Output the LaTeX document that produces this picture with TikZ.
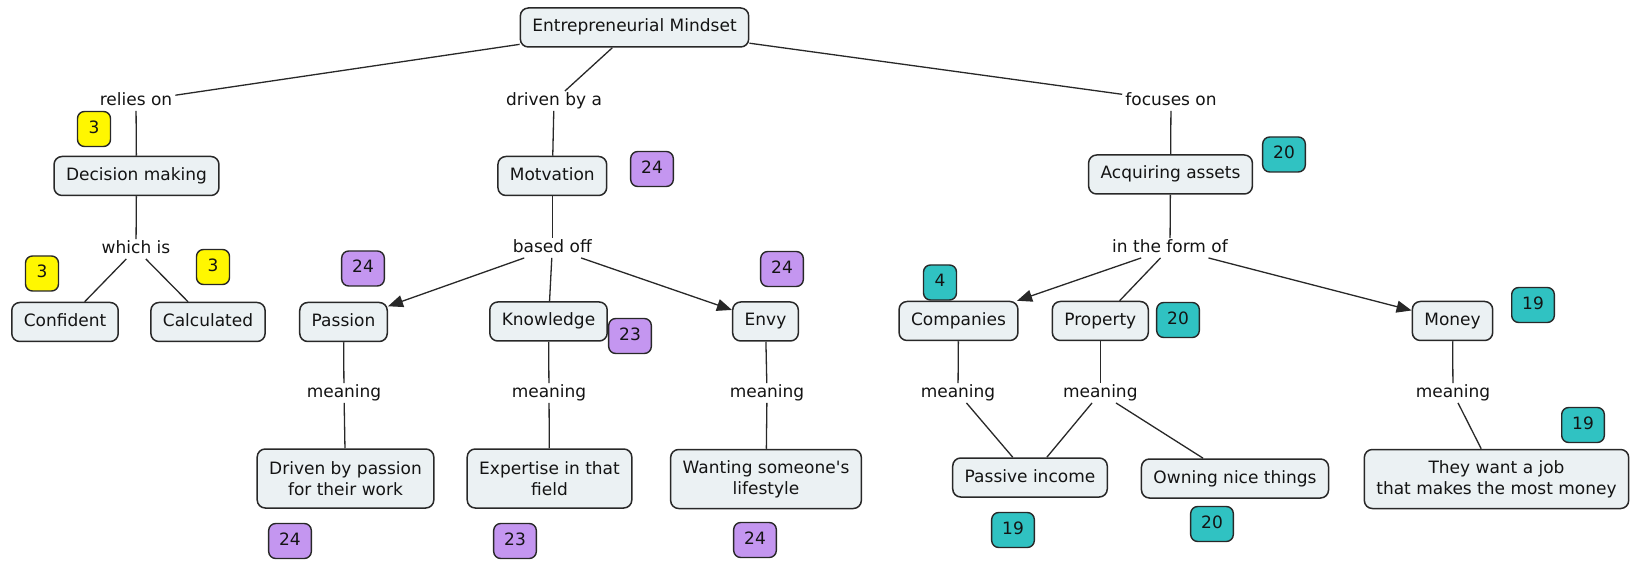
\documentclass[tikz,border=0pt]{standalone}
\usepackage{fontspec}
\newfontfamily\cmapfont{DejaVu Sans}
\usetikzlibrary{arrows.meta}
\definecolor{boxfill}{RGB}{235,241,243}
\definecolor{boxline}{RGB}{40,40,40}
\definecolor{yel}{RGB}{255,247,0}
\definecolor{pur}{RGB}{196,150,240}
\definecolor{teal2}{RGB}{48,194,194}
\definecolor{txt}{RGB}{20,20,20}
\tikzset{
  concept/.style={draw=boxline, line width=1.5pt, fill=boxfill, rounded corners=8pt,
    inner xsep=12pt, inner ysep=0pt, minimum height=39pt, text height=12.5pt, text depth=3.5pt, text=txt},
  concepttwo/.style={draw=boxline, line width=1.5pt, fill=boxfill, rounded corners=8pt,
    inner xsep=12pt, inner ysep=10pt, minimum height=59pt, align=center, text=txt},
  linkword/.style={fill=white, inner xsep=3pt, inner ysep=2pt, text height=12pt, text depth=3.5pt, text=txt},
  badge/.style={draw=boxline, line width=1.4pt, rounded corners=7pt, inner xsep=10.5pt, inner ysep=0pt,
    minimum height=35pt, minimum width=33pt, text height=12.5pt, text depth=3.5pt, text=txt},
  yb/.style={badge, fill=yel},
  pb/.style={badge, fill=pur},
  tb/.style={badge, fill=teal2},
  conn/.style={draw=boxline, line width=1.3pt},
  arr/.style={conn, -{Triangle[length=15pt,width=12pt]}}
}
\begin{document}
\begin{tikzpicture}[x=1pt,y=-1pt, font=\cmapfont\fontsize{17}{21}\selectfont]
\useasboundingbox (0,0) rectangle (1631,561);
\fill[white] (0,0) rectangle (1631,561);

% concepts
\node[concept] (em) at (634.5,27.5) {Entrepreneurial Mindset};
\node[linkword] (relies) at (136,101) {relies on};
\node[linkword] (driven) at (554,101) {driven by a};
\node[linkword] (focuses) at (1171,101) {focuses on};
\node[concept] (dm) at (136.5,176) {Decision making};
\node[concept] (mot) at (552.3,176) {Motvation};
\node[concept] (aa) at (1170.5,174.5) {Acquiring assets};
\node[linkword] (which) at (136,249) {which is};
\node[linkword] (based) at (552.3,248) {based off};
\node[linkword] (form) at (1170,248) {in the form of};
\node[concept] (conf) at (65,322) {Confident};
\node[concept] (calc) at (208,322) {Calculated};
\node[concept] (pas) at (343.5,322) {Passion};
\node[concept] (know) at (548.5,321.5) {Knowledge};
\node[concept] (envy) at (765.5,321.5) {Envy};
\node[concept] (comp) at (958.5,321) {Companies};
\node[concept] (prop) at (1100.3,321) {Property};
\node[concept] (money) at (1452.5,321) {Money};
\node[linkword] (m1) at (344,393) {meaning};
\node[linkword] (m2) at (549,393) {meaning};
\node[linkword] (m3) at (767,393) {meaning};
\node[linkword] (m4) at (958,393) {meaning};
\node[linkword] (m5) at (1100.3,393) {meaning};
\node[linkword] (m6) at (1453,393) {meaning};
\node[concepttwo] (drv) at (345.5,478.5) {Driven by passion\\for their work};
\node[concepttwo] (exp) at (549.5,478.5) {Expertise in that\\field};
\node[concepttwo] (want) at (766,479) {Wanting someone's\\lifestyle};
\node[concept] (pi) at (1030,477.5) {Passive income};
\node[concept] (own) at (1235,478.5) {Owning nice things};
\node[concepttwo] (job) at (1496.5,479) {They want a job\\that makes the most money};

% connectors
\draw[conn] (em) -- (relies);
\draw[conn] (relies) -- (dm);
\draw[conn] (em) -- (driven);
\draw[conn] (driven) -- (mot);
\draw[conn] (em) -- (focuses);
\draw[conn] (focuses) -- (aa);
\draw[conn] (dm) -- (which);
\draw[conn] (which) -- (conf);
\draw[conn] (which) -- (calc);
\draw[conn] (mot) -- (based);
\draw[arr] (based) -- (pas);
\draw[conn] (based) -- (know);
\draw[arr] (based) -- (envy);
\draw[conn] (aa) -- (form);
\draw[arr] (form) -- (comp);
\draw[conn] (form) -- (prop);
\draw[arr] (form) -- (money);
\draw[conn] (pas) -- (m1);
\draw[conn] (m1) -- (drv);
\draw[conn] (know) -- (m2);
\draw[conn] (m2) -- (exp);
\draw[conn] (envy) -- (m3);
\draw[conn] (m3) -- (want);
\draw[conn] (comp) -- (m4);
\draw[conn] (m4) -- (pi);
\draw[conn] (prop) -- (m5);
\draw[conn] (m5) -- (pi);
\draw[conn] (m5) -- (own);
\draw[conn] (money) -- (m6);
\draw[conn] (m6) -- (job);

% badges
\node[yb] (y1) at (94,129) {3};
\node[yb] (y2) at (42,273.5) {3};
\node[yb] (y3) at (213,267) {3};
\node[pb] (p1) at (652,169) {24};
\node[pb] (p2) at (363,268.5) {24};
\node[pb] (p3) at (782,269) {24};
\node[pb] (p4) at (630,336) {23};
\node[pb] (p5) at (290,541) {24};
\node[pb] (p6) at (515,541) {23};
\node[pb] (p7) at (755,540) {24};
\node[tb] (t1) at (1284,154.5) {20};
\node[tb] (t2) at (940,282.5) {4};
\node[tb] (t3) at (1178,320) {20};
\node[tb] (t4) at (1533,305) {19};
\node[tb] (t5) at (1583,425) {19};
\node[tb] (t6) at (1013,530) {19};
\node[tb] (t7) at (1212,524) {20};
\end{tikzpicture}
\end{document}
